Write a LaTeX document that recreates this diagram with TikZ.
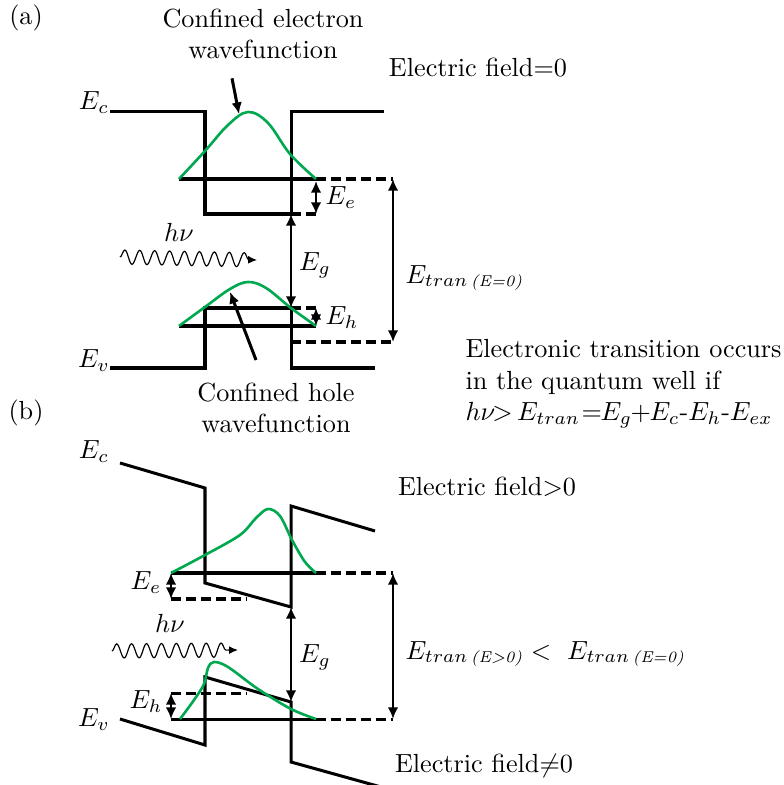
\documentclass[tikz,border=0pt]{standalone}
\usepackage{amsmath,amssymb}
\usepackage{tikz}
\usetikzlibrary{arrows.meta,decorations.pathmorphing}
\usepackage{xcolor}
\definecolor{psigreen}{RGB}{0, 168, 80}
\newcommand{\fieldsub}[1]{\text{\itshape\fontsize{6}{7}\selectfont (#1)}}

\begin{document}
\begin{tikzpicture}[x=0.3817pt, y=-0.3817pt, >={Latex[length=4.4pt,width=4pt]},
    band/.style={line width=1.15pt, line join=miter},
    lvl/.style={line width=1.15pt, dash pattern=on 3.8pt off 1.9pt},
    gap/.style={<->, line width=1.1pt},
    pointer/.style={->, line width=1.15pt},
    psi/.style={psigreen, line width=1pt},
    photon/.style={-{Latex[length=3.4pt,width=3pt]}, line width=0.45pt, decorate,
      decoration={snake, segment length=5.7pt, amplitude=2.7pt, post length=2.6pt}}]
    \useasboundingbox (0,0) rectangle (783,785);

    % ---------- (a) no field ----------
    \node (alab) at (26,18) {(a)};
    \node[align=center] (aeText) at (263,34) {Confined electron\\wavefunction};
    \node (afield) at (478,68) {Electric field=0};
    \node (aEc) at (94,103) {$E_c$};
    \node (aEv) at (94,361) {$E_v$};

    \draw[band] (110,112) -- (205,112) -- (205,214) -- (291,214) -- (291,112) -- (384,112);
    \draw[band] (110,368) -- (205,368) -- (205,308) -- (291,308) -- (291,368) -- (375,368);

    \coordinate (aeL) at (179,179);
    \coordinate (aeR) at (316,179);
    \coordinate (aeB) at (316,214);
    \coordinate (aCb) at (291,214);
    \coordinate (aVb) at (291,308);
    \coordinate (ahT) at (316,308);
    \coordinate (ahL) at (179,326);
    \coordinate (ahR) at (316,326);
    \coordinate (atT) at (393,179);
    \coordinate (atB) at (393,342);
    \coordinate (atW) at (291,342);

    \draw[band] (aeL) -- (aeR);
    \draw[band] (ahL) -- (ahR);
    \draw[lvl] (aeR) -- (atT);
    \draw[lvl] (aCb) -- (aeB);
    \draw[lvl] (aVb) -- (ahT);
    \draw[lvl] (atW) -- (atB);

    \draw[psi] plot[smooth, tension=0.6] coordinates {
      (179,179) (205,151) (228,125) (248,112) (268,123) (290,154) (316,179)};
    \draw[psi] plot[smooth, tension=0.6] coordinates {
      (179,326) (205,307) (230,289) (248,282) (266,288) (291,308) (316,326)};

    \draw[gap] (aeR) ++(0,2) -- (aeB);
    \draw[gap] (ahT) -- (ahR);
    \draw[gap] (aCb) -- (aVb);
    \draw[gap] (atT) -- (atB);

    \node (aEe) at (341,198) {$E_e$};
    \node (aEh) at (342,318) {$E_h$};
    \node (aEg) at (315,265) {$E_g$};
    \node[anchor=west, inner sep=0pt] (aEt) at (405,278) {$E_{tran\,\fieldsub{E=0}}$};

    \node (ahv) at (179,232) {$h\nu$};
    \coordinate (aw0) at (120,257);
    \coordinate (aw1) at (257,260);
    \draw[photon] (aw0) -- (aw1);

    \coordinate (aeTip) at (239,114);
    \draw[pointer] (aeText.south) ++(-31,10) -- (aeTip);
    \node[align=center] (ahText) at (276,408) {Confined hole\\wavefunction};
    \coordinate (ahTip) at (230,292);
    \coordinate (ahTail) at (256,360);
    \draw[pointer] (ahTail) -- (ahTip);

    \node[align=left, anchor=west, inner sep=0pt] (rule) at (465,384)
      {Electronic transition occurs\\in the quantum well if\\
       $h\nu\mkern-2mu{>}\,E_{tran}\mkern1mu{=}\mkern-1muE_g\mkern-1mu{+}\mkern-1muE_c$-$E_h$-$E_{ex}$};

    % ---------- (b) with field ----------
    \node (blab) at (26,413) {(b)};
    \node (bfield) at (487,487) {Electric field$>$0};
    \node (bfield2) at (484,766) {Electric field$\neq$0};
    \node (bEc) at (94,452) {$E_c$};
    \node (bEv) at (94,720) {$E_v$};

    \draw[band] (120,463) -- (205,488) -- (205,583) -- (291,607) -- (291,506) -- (375,531);
    \draw[band] (120,719) -- (205,745) -- (205,677) -- (291,702) -- (291,762) -- (381,787);

    \coordinate (beL) at (171,573);
    \coordinate (beR) at (316,573);
    \coordinate (beD) at (171,599);
    \coordinate (beD2) at (247,599);
    \coordinate (bhL) at (171,719);
    \coordinate (bhR) at (316,719);
    \coordinate (bhD) at (171,693);
    \coordinate (bhD2) at (247,693);
    \coordinate (bCb) at (291,607);
    \coordinate (bVb) at (291,702);
    \coordinate (btT) at (393,573);
    \coordinate (btB) at (393,719);

    \draw[band] (beL) -- (beR);
    \draw[band] (bhL) -- (bhR);
    \draw[lvl] (beR) -- (btT);
    \draw[lvl] (bhR) -- (btB);
    \draw[lvl] (beD) -- (beD2);
    \draw[lvl] (bhD) -- (bhD2);

    \draw[psi] plot[smooth, tension=0.55] coordinates {
      (171,573) (205,555) (240,535) (256,518) (268,509) (280,516) (292,540) (305,562) (316,573)};
    \draw[psi] plot[smooth, tension=0.55] coordinates {
      (180,719) (194,700) (204,684) (208,668) (214,662) (228,667) (258,689) (291,709) (316,719)};

    \draw[gap] (beL) -- (beD);
    \draw[gap] (bhD) -- (bhL);
    \draw[gap] (bCb) -- (bVb);
    \draw[gap] (btT) -- (btB);

    \node (bEe) at (146,583) {$E_e$};
    \node (bEh) at (146,702) {$E_h$};
    \node (bEg) at (315,657) {$E_g$};
    \node[anchor=west, inner sep=0pt] (bEt) at (405,654)
      {$E_{tran\,\fieldsub{E\textgreater0}} <\ E_{tran\,\fieldsub{E=0}}$};

    \node (bhv) at (170,623) {$h\nu$};
    \coordinate (bw0) at (112,651);
    \coordinate (bw1) at (238,650);
    \draw[photon] (bw0) -- (bw1);
  \end{tikzpicture}
\end{document}
